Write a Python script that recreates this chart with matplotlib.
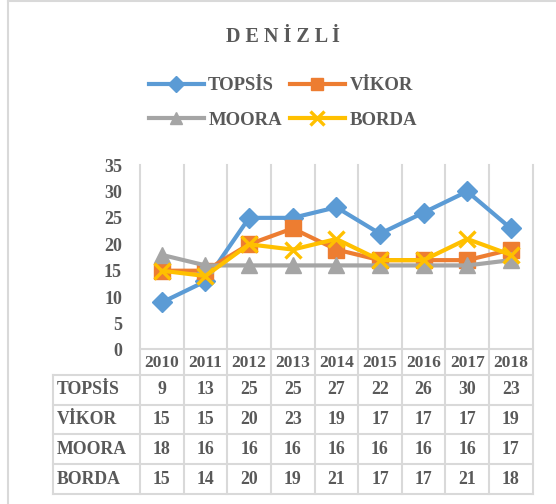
import matplotlib.pyplot as plt
from matplotlib.transforms import blended_transform_factory

years = ['2010', '2011', '2012', '2013', '2014', '2015', '2016', '2017', '2018']
topsis = [9, 13, 25, 25, 27, 22, 26, 30, 23]
vikor = [15, 15, 20, 23, 19, 17, 17, 17, 19]
moora = [18, 16, 16, 16, 16, 16, 16, 16, 17]
borda = [15, 14, 20, 19, 21, 17, 17, 21, 18]
names = ['TOPSİS', 'VİKOR', 'MOORA', 'BORDA']
series = [topsis, vikor, moora, borda]
colors = ['#5B9BD5', '#ED7D31', '#A5A5A5', '#FFC000']
markers = ['D', 's', '^', 'x']
msizes = [10, 11, 11, 12]

txt = '#595959'
grid = '#D9D9D9'
plt.rcParams['font.family'] = ['Liberation Serif']
plt.rcParams['font.weight'] = 'bold'

W, H = 556, 504
fig = plt.figure(figsize=(W / 100, H / 100), dpi=100)

# background axes in pixel units for frame and table
bg = fig.add_axes([0, 0, 1, 1], zorder=-1)
bg.set_xlim(0, W)
bg.set_ylim(H, 0)
bg.axis('off')

ax = fig.add_axes([140 / W, 1 - 350 / H, (532.7 - 140) / W, 185 / H])
ax.patch.set_alpha(0)
ax.set_xlim(-0.5, len(years) - 0.5)
ax.set_ylim(0, 35)
ax.set_yticks(range(0, 36, 5))
ax.set_xticks([])
ax.tick_params(axis='y', length=0, pad=13, labelsize=13, labelcolor=txt)
for lab in ax.get_yticklabels():
    lab.set_fontweight('bold')
for s in ax.spines.values():
    s.set_visible(False)

x = range(len(years))
handles = []
for i, (name, vals) in enumerate(zip(names, series)):
    h, = ax.plot(x, vals, color=colors[i], lw=3, marker=markers[i], ms=msizes[i],
                 mew=2.4 if markers[i] == 'x' else 1, label=name, zorder=3 + i,
                 solid_joinstyle='round', clip_on=False)
    handles.append(h)

# frame
bg.plot([8, 8], [1, H], color=grid, lw=1.5)
bg.plot([8, W], [1, 1], color=grid, lw=1.5)

# gridlines + table
tr = blended_transform_factory(ax.transData, bg.transData)
row_y = [349, 375, 405, 434, 464, 494]
for k in range(len(years) + 1):
    bg.plot([k - 0.5, k - 0.5], [165, row_y[-1]], color=grid, lw=1.5, transform=tr)
left = 53
bg.plot([left, left], [row_y[1], row_y[-1]], color=grid, lw=1.5)
x_end = ax.transData.transform((len(years) - 0.5, 0))[0]
x_end = x_end / fig.dpi * 100
bg.plot([140, x_end], [row_y[0], row_y[0]], color=grid, lw=1.5)
for yy in row_y[1:]:
    bg.plot([left, x_end], [yy, yy], color=grid, lw=1.5)

for k, yr in enumerate(years):
    bg.text(k, (row_y[0] + row_y[1]) / 2 + 1, yr, transform=tr, ha='center', va='center',
            fontsize=12.5, color=txt, fontweight='bold')
for r, (name, vals) in enumerate(zip(names, series)):
    yc = (row_y[r + 1] + row_y[r + 2]) / 2
    bg.text(57, yc, name, ha='left', va='center', fontsize=12.8, color=txt, fontweight='bold')
    for k, v in enumerate(vals):
        bg.text(k, yc, str(v), transform=tr, ha='center', va='center',
                fontsize=12.8, color=txt, fontweight='bold')

# title
fig.text(283 / W, 1 - 37 / H, 'D E N İ Z L İ', ha='center', va='center',
         fontsize=14.5, color=txt, fontweight='bold')

# legend filled column-wise, so reorder to get TOPSIS/VIKOR on row 1
order = [0, 2, 1, 3]
leg = fig.legend([handles[i] for i in order], [names[i] for i in order],
                 loc='center', bbox_to_anchor=(283 / W, 1 - 103 / H), ncol=2,
                 frameon=False, fontsize=13.5, handlelength=2.9, handletextpad=0.25,
                 columnspacing=0.45, labelspacing=0.95, labelcolor=txt, markerscale=0.85)
for t in leg.get_texts():
    t.set_fontweight('bold')

fig.savefig('out.png', dpi=100)
